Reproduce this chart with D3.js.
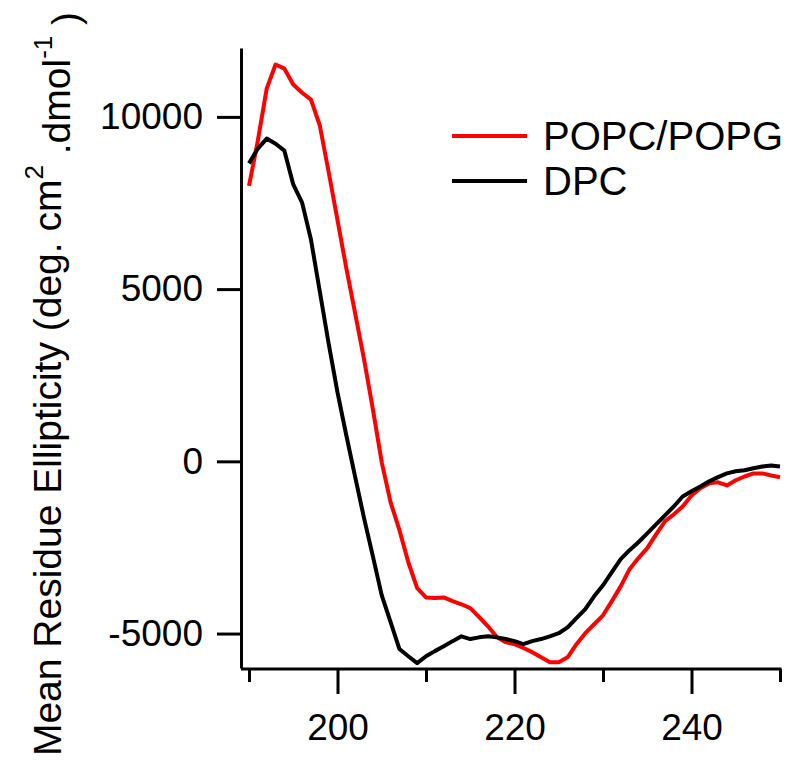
<!DOCTYPE html>
<html>
<head>
<meta charset="utf-8">
<script src="https://cdn.jsdelivr.net/npm/d3@7"></script>
<style>
  body { margin: 0; background: #fff; }
  text { font-family: "Liberation Sans", Arial, sans-serif; fill: #000; }
</style>
</head>
<body>
<div id="container"></div>
<script>
// wavelength (nm), one point per nm
let wavelengths = d3.range(190, 251);

// POPC/POPG, mean residue ellipticity
let popcPopg = [
  8000, 9310, 10820, 11520, 11400, 10940, 10700, 10500, 9750, 8400,
  7000, 5600, 4290, 2960, 1510, -30, -1190, -2000, -2930, -3680,
  -3950, -3970, -3950, -4060, -4150, -4260, -4520, -4790, -5100, -5250,
  -5310, -5420, -5540, -5690, -5830, -5830, -5690, -5310, -4990, -4730,
  -4470, -4060, -3630, -3130, -2810, -2520, -2120, -1740, -1540, -1310,
  -990, -780, -640, -610, -700, -550, -440, -350, -350, -410,
  -460
];

// DPC
let dpc = [
  8650, 9080, 9370, 9220, 9020, 8040, 7510, 6440, 4930, 3420,
  2000, 750, -460, -1650, -2760, -3890, -4670, -5450, -5660, -5860,
  -5660, -5510, -5370, -5220, -5080, -5160, -5110, -5080, -5110, -5160,
  -5220, -5310, -5220, -5160, -5080, -4990, -4820, -4550, -4290, -3920,
  -3600, -3220, -2840, -2580, -2350, -2090, -1830, -1570, -1310, -1020,
  -870, -730, -580, -460, -350, -290, -260, -200, -150, -120,
  -150
];

let xMajorTicks = [200, 220, 240];
let xMinorTicks = [190, 210, 230, 250];
let yTicks = [-5000, 0, 5000, 10000];

let seriesNames = ["POPC/POPG", "DPC"];
let seriesColors = ["#ff0000", "#000000"];

let w = 788;
let h = 762;

let viz = d3.select("#container")
  .append("svg")
    .attr("width", w)
    .attr("height", h)
;

let xScale = d3.scaleLinear().domain([190, 250]).range([249, 780]);
let yScale = d3.scaleLinear().domain([-6000, 12000]).range([668, 48]);

let axisLeftX = 241;
let axisBottomY = 669;

// plain hyphen for negatives, like the original
function plainNumber(d){ return String(d); }

// y axis
let yAxis = d3.axisLeft(yScale)
  .tickValues(yTicks)
  .tickSize(24)
  .tickSizeOuter(0)
  .tickPadding(14)
  .tickFormat(plainNumber);
let yAxisGroup = viz.append("g")
    .attr("transform", "translate(" + axisLeftX + ",0)")
    .call(yAxis);
yAxisGroup.selectAll("text").style("font-size", "37px");

// x axis: major ticks with labels, minor ticks without
let xAxis = d3.axisBottom(xScale)
  .tickValues(xMajorTicks)
  .tickSize(25)
  .tickSizeOuter(0)
  .tickPadding(20)
  .tickFormat(plainNumber);
let xAxisGroup = viz.append("g")
    .attr("transform", "translate(0," + axisBottomY + ")")
    .call(xAxis);
xAxisGroup.select(".domain").remove();
xAxisGroup.selectAll("text").style("font-size", "37px");

let xMinor = d3.axisBottom(xScale)
  .tickValues(xMinorTicks)
  .tickSize(13)
  .tickSizeOuter(0)
  .tickFormat("");
let xMinorGroup = viz.append("g")
    .attr("transform", "translate(0," + axisBottomY + ")")
    .call(xMinor);
xMinorGroup.select(".domain").remove();

viz.append("line")
    .attr("x1", axisLeftX)
    .attr("x2", xScale(250) + 1.5)
    .attr("y1", axisBottomY)
    .attr("y2", axisBottomY)
    .attr("stroke", "black")
    .attr("stroke-width", 3);

viz.selectAll(".domain, .tick line")
    .attr("stroke", "black")
    .attr("stroke-width", 3);

// curves
let lineMaker = d3.line()
  .x(function(d){ return xScale(d[0]); })
  .y(function(d){ return yScale(d[1]); });

[popcPopg, dpc].forEach(function(values, i){
  viz.append("path")
      .datum(wavelengths.map(function(wl, j){ return [wl, values[j]]; }))
      .attr("d", lineMaker)
      .attr("fill", "none")
      .attr("stroke", seriesColors[i])
      .attr("stroke-width", 4)
      .attr("stroke-linejoin", "round");
});

// legend
let legend = viz.append("g").attr("transform", "translate(452,136)");
seriesNames.forEach(function(name, i){
  let row = legend.append("g").attr("transform", "translate(0," + (i * 45) + ")");
  row.append("line")
      .attr("x1", 0).attr("x2", 75)
      .attr("stroke", seriesColors[i])
      .attr("stroke-width", 4);
  row.append("text")
      .attr("x", 91)
      .attr("dy", "0.35em")
      .style("font-size", "40px")
      .text(name);
});

// y axis title
let yTitle = viz.append("text")
    .attr("transform", "translate(61,384) rotate(-90)")
    .attr("text-anchor", "middle")
    .style("font-size", "39px");
yTitle.append("tspan").text("Mean Residue Ellipticity (deg. cm");
yTitle.append("tspan").attr("dy", "-0.7em").style("font-size", "26px").text("2");
yTitle.append("tspan").attr("dy", "0.7em").text(" .dmol");
yTitle.append("tspan").attr("dy", "-0.7em").style("font-size", "26px").text("-1");
yTitle.append("tspan").attr("dy", "0.7em").text(" )");
</script>
</body>
</html>
